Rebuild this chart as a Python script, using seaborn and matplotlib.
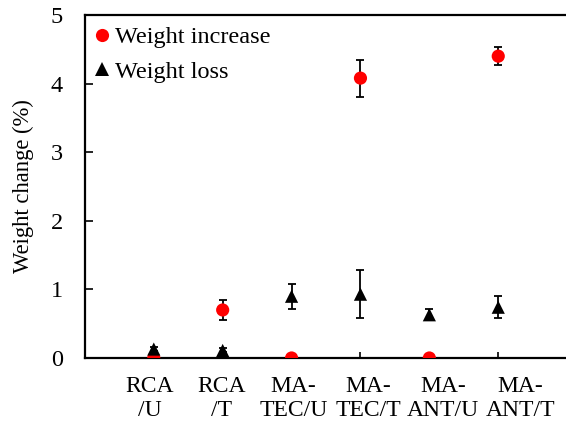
import matplotlib
matplotlib.use("Agg")
import matplotlib.pyplot as plt
import matplotlib.transforms as mtransforms
import seaborn as sns
import pandas as pd
import numpy as np

categories = ["RCA\n/U", "RCA\n/T", "MA-\nTEC/U", "MA-\nTEC/T", "MA-\nANT/U", "MA-\nANT/T"]
increase = [0.0, 0.70, 0.0, 4.08, 0.0, 4.40]
increase_err = [0.0, 0.15, 0.0, 0.27, 0.0, 0.13]
loss = [0.13, 0.11, 0.90, 0.93, 0.63, 0.74]
loss_err = [0.03, 0.03, 0.18, 0.35, 0.08, 0.16]
# horizontal drift of each category label in the original (pixels)
label_shift = [-4, -1, 2, 8, 14, 22]

sns.set_style("ticks")
plt.rcParams["font.family"] = ["Liberation Serif", "DejaVu Serif"]
for k in ["text.color", "axes.labelcolor", "xtick.color", "ytick.color", "axes.edgecolor"]:
    plt.rcParams[k] = "black"

pos = np.arange(1, len(categories) + 1)
df = pd.DataFrame({
    "pos": np.concatenate([pos, pos]),
    "value": increase + loss,
    "err": increase_err + loss_err,
    "series": ["Weight increase"] * len(pos) + ["Weight loss"] * len(pos),
})

fig = plt.figure(figsize=(5.66, 4.23), dpi=100)
ax = fig.add_axes([0.150, 0.1537, 0.852, 0.8108])

for name in ["Weight loss", "Weight increase"]:
    sub = df[df["series"] == name]
    ax.errorbar(sub["pos"], sub["value"], yerr=sub["err"], fmt="none",
                ecolor="black", elinewidth=1.3, capsize=3, capthick=1.3, zorder=2)

sns.scatterplot(data=df, x="pos", y="value", hue="series", style="series",
                hue_order=["Weight increase", "Weight loss"],
                palette={"Weight increase": "red", "Weight loss": "black"},
                markers={"Weight increase": "o", "Weight loss": "^"},
                s=90, edgecolor="none", linewidth=0, ax=ax, zorder=3)
ax.collections[-1].set_zorder(4)

ax.set_xlim(0, 7)
ax.set_ylim(0, 5)
ax.set_yticks([0, 1, 2, 3, 4, 5])
ax.set_xticks(pos)
ax.set_xticklabels(categories, fontsize=17, linespacing=1.2)
ax.tick_params(axis="y", labelsize=17.5, direction="in", length=6, width=1.2, pad=16)
ax.tick_params(axis="x", direction="in", length=4, width=1.2, pad=13)
ax.set_xlabel("")
ax.set_ylabel("Weight change (%)", fontsize=16.3, labelpad=12)

for lbl, dx in zip(ax.get_xticklabels(), label_shift):
    lbl.set_transform(lbl.get_transform() +
                      mtransforms.ScaledTranslation(dx / 100.0, 0, fig.dpi_scale_trans))

for side in ["left", "bottom", "top"]:
    ax.spines[side].set_linewidth(1.6)
ax.spines["right"].set_visible(False)

ax.legend(loc="upper left", frameon=False, fontsize=17.5, handletextpad=0.05,
          labelspacing=0.5, borderaxespad=0.1, borderpad=0.3, handlelength=1.0,
          bbox_to_anchor=(-0.01, 0.995))

fig.savefig("out.png", dpi=100)
